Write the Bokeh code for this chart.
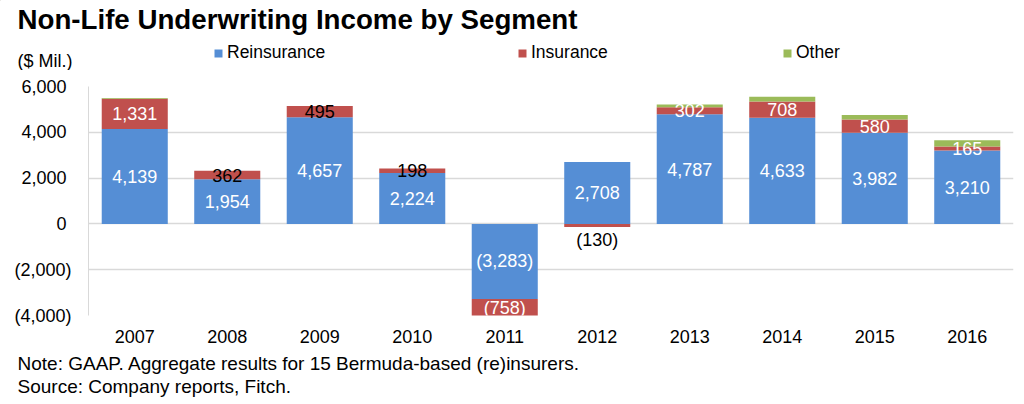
import numpy as np
from bokeh.plotting import figure
from bokeh.layouts import column
from bokeh.models import ColumnDataSource, Range1d, FixedTicker, Legend, LegendItem
from bokeh.core.properties import value
from bokeh.embed import file_html
from bokeh.resources import INLINE

# Non-life underwriting income, $ millions
years = ["2007", "2008", "2009", "2010", "2011", "2012", "2013", "2014", "2015", "2016"]
reinsurance = [4139, 1954, 4657, 2224, -3283, 2708, 4787, 4633, 3982, 3210]
insurance = [1331, 362, 495, 198, -758, -130, 302, 708, 580, 165]
other = [30, 0, 0, 0, 0, 0, 130, 210, 190, 280]
series_names = ["Reinsurance", "Insurance", "Other"]
y_ticks = [-4000, -2000, 0, 2000, 4000, 6000]

title_text = "Non-Life Underwriting Income by Segment"
unit_text = "($ Mil.)"
note_lines = ["Note: GAAP. Aggregate results for 15 Bermuda-based (re)insurers.",
              "Source: Company reports, Fitch."]

FONT = "Liberation Sans"
BLUE, RED, GREEN = "#558ED5", "#C0504D", "#9BBB59"
COLORS = (BLUE, RED, GREEN)
GRID = "#d9d9d9"
W = 1024
HEAD_H, MAIN_H, FOOT_H = 70, 282, 52


def fmt(v):
    return f"({abs(v):,})" if v < 0 else f"{v:,}"


def blank(height):
    """A figure whose frame fills the canvas, with y measured downward in pixels."""
    f = figure(width=W, height=height, x_range=Range1d(0, W), y_range=Range1d(height, 0),
               output_backend="svg", toolbar_location=None,
               x_axis_type=None, y_axis_type=None,
               min_border=0, min_border_left=0, min_border_right=0,
               min_border_top=0, min_border_bottom=0)
    f.frame_align = False
    f.outline_line_color = None
    f.grid.visible = False
    return f


# ---- header: title, unit and legend ----
head = blank(HEAD_H)
head.text(x=[17], y=[18.5], text=[title_text], text_font=value(FONT),
          text_font_size=value("27.7px"), text_font_style="bold", text_color="black",
          text_baseline="middle", text_align="left")
head.text(x=[17], y=[60], text=[unit_text], text_font=value(FONT),
          text_font_size=value("18px"), text_color="black",
          text_baseline="middle", text_align="left")

# legend keys: one off-canvas swatch per series carries the fill colour
key_renderers = [head.vbar(x=[-50], bottom=[-50], top=[-40], width=1, fill_color=c, line_color=None)
                 for c in COLORS]
for x, name, r in zip((213, 517, 782), series_names, key_renderers):
    lg = Legend(items=[LegendItem(label=name, renderers=[r], index=0)], location=(x, 7),
                orientation="horizontal", glyph_width=10, glyph_height=10,
                label_standoff=4, padding=0, margin=0, spacing=0,
                border_line_color=None, background_fill_alpha=0,
                label_text_font=FONT, label_text_font_size="17.5px",
                label_text_color="black", label_height=20)
    head.add_layout(lg, "center")

# ---- main chart ----
# stack positive values upward and negative values downward from zero
pos = np.zeros(len(years))
neg = np.zeros(len(years))
bounds = []
for s in (reinsurance, insurance, other):
    s = np.asarray(s, dtype=float)
    base = np.where(s >= 0, pos, neg)
    top = base + s
    bounds.append((base, top))
    pos = np.where(s >= 0, top, pos)
    neg = np.where(s < 0, top, neg)

p = figure(x_range=years, y_range=Range1d(-4000, 6000), width=W, height=MAIN_H,
           output_backend="svg", toolbar_location=None,
           min_border_left=88, min_border_right=11, min_border_top=16, min_border_bottom=MAIN_H - 245)
p.frame_align = False
p.outline_line_color = None

for (base, top), color in zip(bounds, COLORS):
    src = ColumnDataSource(dict(x=years, bottom=base, top=top))
    p.vbar(x="x", bottom="bottom", top="top", width=0.714, source=src,
           fill_color=color, line_color=None)

# value labels
rb, rt = bounds[0]
p.text(x=years, y=(rb + rt) / 2, text=[fmt(v) for v in reinsurance],
       text_color="white", text_font=value(FONT), text_font_size=value("18px"),
       text_align="center", text_baseline="middle")

ib, it = bounds[1]
ins_label_color = ["white", "black", "black", "black", "white", "black",
                   "white", "white", "white", "white"]
ins_label_below = [False, False, False, False, False, True,
                   False, False, False, False]
mid_idx = [i for i in range(len(years)) if not ins_label_below[i]]
low_idx = [i for i in range(len(years)) if ins_label_below[i]]
p.text(x=[years[i] for i in mid_idx], y=[(ib[i] + it[i]) / 2 for i in mid_idx],
       text=[fmt(insurance[i]) for i in mid_idx],
       text_color=[ins_label_color[i] for i in mid_idx],
       text_font=value(FONT), text_font_size=value("18px"),
       text_align="center", text_baseline="middle")
p.text(x=[years[i] for i in low_idx], y=[min(ib[i], it[i]) for i in low_idx],
       text=[fmt(insurance[i]) for i in low_idx],
       text_color=[ins_label_color[i] for i in low_idx],
       text_font=value(FONT), text_font_size=value("18px"),
       text_align="center", text_baseline="top", y_offset=3)

# axes
p.yaxis.ticker = FixedTicker(ticks=y_ticks)
p.yaxis.major_label_overrides = {t: (fmt(t) if t < 0 else fmt(t) + "\u2008") for t in y_ticks}
p.yaxis.major_tick_line_color = None
p.yaxis.minor_tick_line_color = None
p.yaxis.major_tick_out = 0
p.yaxis.axis_line_color = GRID
p.yaxis.major_label_standoff = 17
p.yaxis.major_label_text_font = FONT
p.yaxis.major_label_text_font_size = "18px"
p.yaxis.major_label_text_color = "black"

p.xaxis.axis_line_color = None
p.xaxis.major_tick_line_color = None
p.xaxis.minor_tick_line_color = None
p.xaxis.major_tick_out = 0
p.xaxis.major_label_standoff = 14
p.xaxis.major_label_text_font = FONT
p.xaxis.major_label_text_font_size = "18px"
p.xaxis.major_label_text_color = "black"

p.xgrid.grid_line_color = None
p.ygrid.grid_line_color = GRID
p.ygrid.grid_line_width = 1.5

# ---- footer: notes ----
foot = blank(FOOT_H)
foot.text(x=[17, 17], y=[11, 34], text=note_lines, text_font=value(FONT),
          text_font_size=value("19px"), text_color="black",
          text_baseline="middle", text_align="left")

layout = column(head, p, foot, spacing=0)
open("out.html", "w").write(file_html(layout, INLINE))
